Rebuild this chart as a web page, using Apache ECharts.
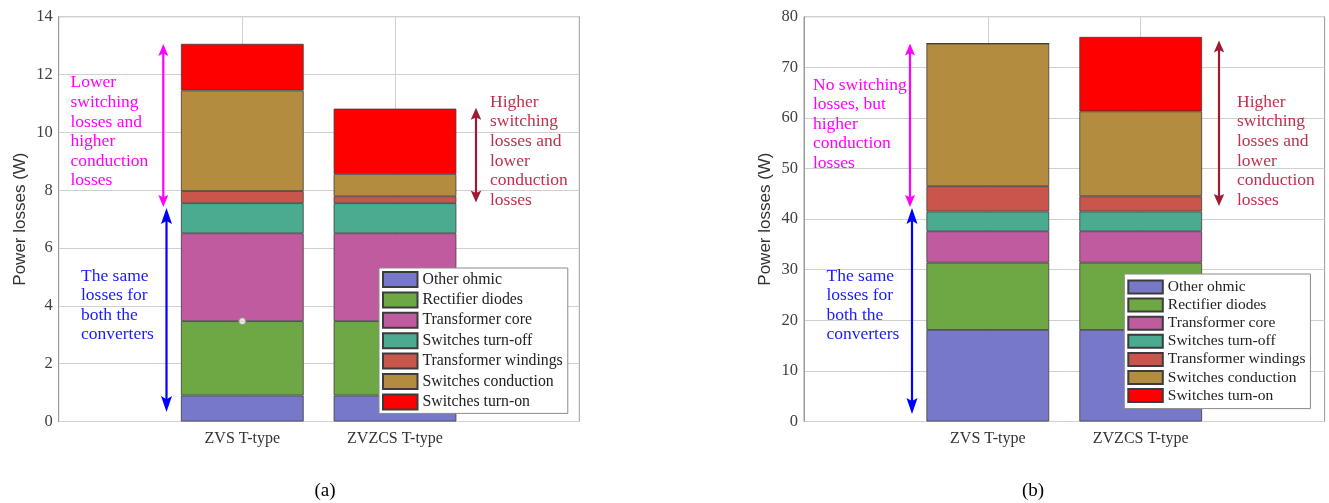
<!DOCTYPE html>
<html>
<head>
<meta charset="utf-8">
<title>Power losses breakdown</title>
<script src="https://cdn.jsdelivr.net/npm/echarts@6/dist/echarts.min.js"></script>
<style>
  html, body { margin: 0; padding: 0; background: #fff; }
  #chart { width: 1329px; height: 503px; }
</style>
</head>
<body>
<div id="chart"></div>
<script>
// converter types (x axis)
const categories = ['ZVS T-type', 'ZVZCS T-type']
const lossNames = ['Other ohmic', 'Rectifier diodes', 'Transformer core', 'Switches turn-off',
  'Transformer windings', 'Switches conduction', 'Switches turn-on']
const lossColors = ['#7878c9', '#6ea844', '#c05b9f', '#4aab90', '#c9564c', '#b38c3f', '#ff0000']

// (a) losses in W
const otherOhmicA = [0.9, 0.9]
const rectifierA = [2.57, 2.57]
const coreA = [3.04, 3.04]
const turnOffA = [1.04, 1.04]
const windingsA = [0.42, 0.24]
const conductionA = [3.48, 0.77]
const turnOnA = [1.61, 2.26]

// (b) losses in W
const otherOhmicB = [18.1, 18.1]
const rectifierB = [13.3, 13.3]
const coreB = [6.2, 6.2]
const turnOffB = [3.9, 3.9]
const windingsB = [5.0, 3.0]
const conductionB = [28.2, 16.8]
const turnOnB = [0, 14.7]

// y axis ranges
const yMaxA = 14, yStepA = 2
const yMaxB = 80, yStepB = 10

// data tip left on panel (a)
const tipPointA = [['ZVS T-type', 3.47]]

// annotation arrows, value spans [top, bottom]
const pinkSpanA = [13.06, 7.42]
const blueSpanA = [7.38, 0.33]
const redSpanA = [10.85, 7.57]
const pinkSpanB = [74.7, 42.4]
const blueSpanB = [42.2, 1.5]
const redSpanB = [75.3, 42.6]

// annotation texts
const pinkNoteA = ['Lower', 'switching', 'losses and', 'higher', 'conduction', 'losses']
const pinkNoteB = ['No switching', 'losses, but', 'higher', 'conduction', 'losses']
const blueNote = ['The same', 'losses for', 'both the', 'converters']
const redNote = ['Higher', 'switching', 'losses and', 'lower', 'conduction', 'losses']

const SERIF = '"Liberation Serif", "Times New Roman", serif'
const GRID_COLOR = '#d0d0d0'
const FRAME_COLOR = '#9a9a9a'

const seriesA = [otherOhmicA, rectifierA, coreA, turnOffA, windingsA, conductionA, turnOnA]
const seriesB = [otherOhmicB, rectifierB, coreB, turnOffB, windingsB, conductionB, turnOnB]

function stackSeries(values, axisIndex, stack) {
  return values.map((vals, i) => ({
    name: lossNames[i],
    type: 'bar',
    stack: stack,
    xAxisIndex: axisIndex,
    yAxisIndex: axisIndex,
    barWidth: 122.7,
    clip: false,
    data: vals,
    itemStyle: { color: lossColors[i], borderColor: '#3c3c3c', borderWidth: 0.8 }
  }))
}

function frameGrid(left) {
  return { left: left, top: 16.7, width: 520.6, height: 404.8, show: true,
    borderColor: FRAME_COLOR, borderWidth: 1, backgroundColor: 'transparent' }
}

function valueAxis(grid, max, step) {
  return {
    gridIndex: grid, type: 'value', min: 0, max: max, interval: step,
    name: 'Power losses (W)', nameLocation: 'middle', nameGap: 30, nameRotate: 90,
    nameTextStyle: { fontFamily: '"Liberation Sans", Arial, sans-serif', fontSize: 17, color: '#333' },
    axisLine: { show: true, lineStyle: { color: FRAME_COLOR } },
    axisTick: { show: false },
    axisLabel: { fontFamily: SERIF, fontSize: 16.5, color: '#404040', margin: 6 },
    splitLine: { show: true, lineStyle: { color: GRID_COLOR, width: 1 } }
  }
}

function catAxis(grid) {
  return {
    gridIndex: grid, type: 'category', data: categories, boundaryGap: false,
    axisLine: { show: false }, axisTick: { show: false },
    axisLabel: { fontFamily: SERIF, fontSize: 16, color: '#333', margin: 9 },
    splitLine: { show: true, lineStyle: { color: GRID_COLOR, width: 1 } }
  }
}

function legendBox(left, top, itemH, gap, pad, fontSize) {
  return {
    data: lossNames, orient: 'vertical', left: left, top: top,
    icon: 'rect', itemWidth: 34.5, itemHeight: itemH, itemGap: gap,
    padding: pad, backgroundColor: '#fff', borderColor: '#8a8a8a', borderWidth: 1,
    selectedMode: false,
    textStyle: { fontFamily: SERIF, fontSize: fontSize, color: '#222', lineHeight: 15 }
  }
}

const chart = echarts.init(document.getElementById('chart'))

chart.setOption({
  backgroundColor: '#fff',
  animation: false,
  grid: [
    frameGrid(58.7),
    { left: 242.3, top: 16.7, width: 152.7, height: 404.8 },
    frameGrid(804),
    { left: 987.8, top: 16.7, width: 152.9, height: 404.8 }
  ],
  xAxis: [
    { gridIndex: 0, type: 'value', show: false, min: 0, max: 1 },
    catAxis(1),
    { gridIndex: 2, type: 'value', show: false, min: 0, max: 1 },
    catAxis(3)
  ],
  yAxis: [
    valueAxis(0, yMaxA, yStepA),
    { gridIndex: 1, type: 'value', min: 0, max: yMaxA, show: false },
    valueAxis(2, yMaxB, yStepB),
    { gridIndex: 3, type: 'value', min: 0, max: yMaxB, show: false }
  ],
  legend: [
    legendBox(379, 268, 15, 3.4, [3, 5, 3, 3], 15.8),
    legendBox(1124.3, 274, 13, 2.1, [5, 5, 5, 3], 15.5)
  ],
  series: [
    ...stackSeries(seriesA, 1, 'a'),
    ...stackSeries(seriesB, 3, 'b'),
    {
      name: 'data tip', type: 'scatter', xAxisIndex: 1, yAxisIndex: 1,
      data: tipPointA, symbolSize: 7, z: 5,
      itemStyle: { color: '#fff', borderColor: '#8c8c8c', borderWidth: 1.3 }
    }
  ]
})

// arrows and notes are placed from axis values
function arrow(x, span, axis, color, headL, headW) {
  const yt = chart.convertToPixel({ yAxisIndex: axis }, span[0])
  const yb = chart.convertToPixel({ yAxisIndex: axis }, span[1])
  return {
    type: 'group', silent: true, z: 10,
    children: [
      { type: 'line', shape: { x1: x, y1: yt + headL * 0.7, x2: x, y2: yb - headL * 0.7 },
        style: { stroke: color, lineWidth: 2.2 } },
      { type: 'polygon', shape: { points: [[x, yt], [x - headW / 2, yt + headL], [x, yt + headL * 0.8], [x + headW / 2, yt + headL]] },
        style: { fill: color } },
      { type: 'polygon', shape: { points: [[x, yb], [x - headW / 2, yb - headL], [x, yb - headL * 0.8], [x + headW / 2, yb - headL]] },
        style: { fill: color } }
    ]
  }
}

function note(x, y, lines, color) {
  return {
    type: 'text', x: x, y: y, silent: true, z: 10,
    style: { text: lines.join('\n'), fill: color, fontFamily: SERIF, fontSize: 17.5,
      lineHeight: 19.6, align: 'left', verticalAlign: 'top' }
  }
}

function caption(x, text) {
  return {
    type: 'text', x: x, y: 491, silent: true,
    style: { text: text, fill: '#000', fontFamily: SERIF, fontSize: 19,
      align: 'center', verticalAlign: 'middle' }
  }
}

chart.setOption({
  graphic: [
    arrow(163.3, pinkSpanA, 0, '#ff00ff', 12, 10),
    arrow(166.5, blueSpanA, 0, '#0000ff', 16, 11),
    arrow(476, redSpanA, 0, '#9e1b34', 12, 10.5),
    note(70.5, 73, pinkNoteA, '#ff00ff'),
    note(81, 266.2, blueNote, '#1a1aff'),
    note(490, 92.5, redNote, '#c0304c'),
    arrow(910, pinkSpanB, 2, '#ff00ff', 12, 10),
    arrow(912, blueSpanB, 2, '#0000ff', 16, 11),
    arrow(1219, redSpanB, 2, '#9e1b34', 12, 10.5),
    note(813, 75.2, pinkNoteB, '#ff00ff'),
    note(826.5, 266.2, blueNote, '#1a1aff'),
    note(1237, 92.5, redNote, '#c0304c'),
    caption(325, '(a)'),
    caption(1033, '(b)')
  ]
})
</script>
</body>
</html>
